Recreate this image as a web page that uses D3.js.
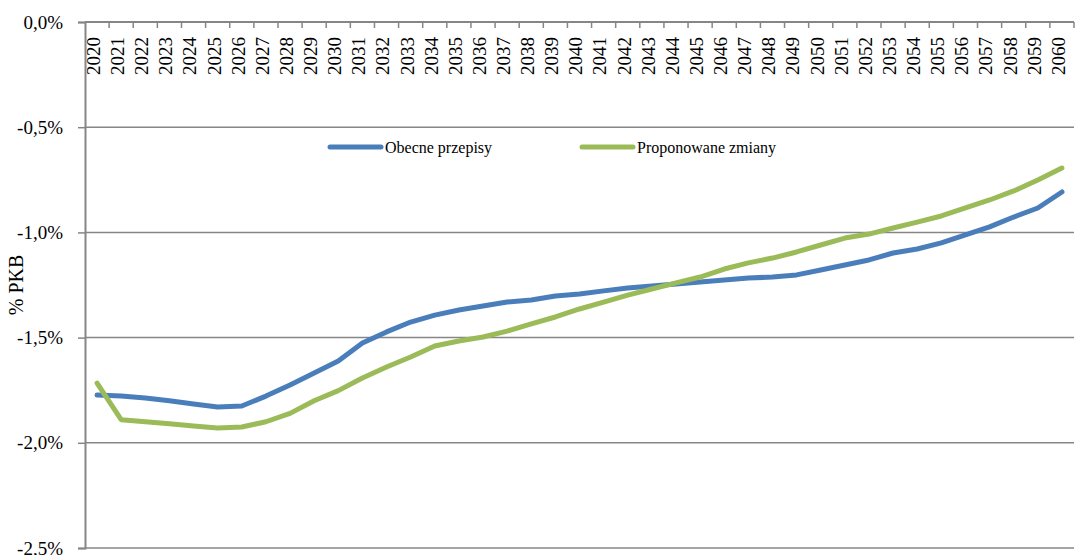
<!DOCTYPE html>
<html>
<head>
<meta charset="utf-8">
<script src="https://cdn.jsdelivr.net/npm/d3@7"></script>
<style>
  html, body { margin: 0; padding: 0; background: #fff; }
  svg { display: block; font-family: "Liberation Serif", "Times New Roman", serif; }
</style>
</head>
<body>
<div id="chart" style="width:1076px;height:555px"></div>
<script>
// years on the (top) category axis
const years = d3.range(2020, 2061).map(String);

// % PKB, current rules
const obecne = [
  -1.773, -1.778, -1.787, -1.800, -1.816, -1.830, -1.825, -1.778, -1.725, -1.668,
  -1.611, -1.526, -1.473, -1.426, -1.393, -1.369, -1.350, -1.331, -1.321, -1.302,
  -1.293, -1.278, -1.264, -1.255, -1.245, -1.236, -1.226, -1.217, -1.212, -1.202,
  -1.179, -1.155, -1.131, -1.098, -1.079, -1.050, -1.012, -0.974, -0.927, -0.884,
  -0.808
];

// % PKB, proposed changes
const proponowane = [
  -1.716, -1.890, -1.900, -1.910, -1.920, -1.930, -1.925, -1.900, -1.860, -1.800,
  -1.752, -1.692, -1.640, -1.592, -1.540, -1.516, -1.497, -1.469, -1.435, -1.402,
  -1.364, -1.331, -1.298, -1.269, -1.240, -1.212, -1.174, -1.145, -1.122, -1.093,
  -1.060, -1.027, -1.008, -0.979, -0.951, -0.922, -0.884, -0.846, -0.803, -0.751,
  -0.694
];

const yTicks = [0, -0.5, -1.0, -1.5, -2.0, -2.5];

const series = [
  { name: "Obecne przepisy", values: obecne, color: "#4A7EBB" },
  { name: "Proponowane zmiany", values: proponowane, color: "#9BBB59" }
];

const width = 1076, height = 555;
const margin = { top: 22, right: 2, bottom: 7, left: 85 };

const svg = d3.select("#chart").append("svg")
  .attr("width", width)
  .attr("height", height);

const x = d3.scaleBand()
  .domain(years)
  .range([margin.left, width - margin.right]);

const y = d3.scaleLinear()
  .domain([-2.5, 0])
  .range([height - margin.bottom, margin.top]);

const fmt = d => d.toFixed(1).replace(".", ",") + "%";

// horizontal grid + left axis
const yAxis = svg.append("g")
  .attr("transform", `translate(${margin.left},0)`)
  .call(d3.axisLeft(y).tickValues(yTicks).tickSize(7).tickPadding(15).tickFormat(fmt));
yAxis.select(".domain").attr("stroke", "#868686").attr("stroke-width", 2);
yAxis.selectAll(".tick line").attr("stroke", "#868686").attr("stroke-width", 1.5);
yAxis.selectAll(".tick text")
  .attr("fill", "#000")
  .style("font-size", "19px")
  .style("font-family", "Liberation Serif");

svg.append("g")
  .selectAll("line")
  .data(yTicks.filter(d => d !== 0))
  .join("line")
  .attr("x1", margin.left)
  .attr("x2", width - margin.right)
  .attr("y1", d => y(d))
  .attr("y2", d => y(d))
  .attr("stroke", "#868686")
  .attr("stroke-width", 1.5);

// top category axis (at 0%) with ticks between categories
const xAxis = svg.append("g");
xAxis.append("line")
  .attr("x1", margin.left)
  .attr("x2", width - margin.right)
  .attr("y1", y(0))
  .attr("y2", y(0))
  .attr("stroke", "#868686")
  .attr("stroke-width", 2);
xAxis.selectAll(".xt")
  .data(years)
  .join("line")
  .attr("class", "xt")
  .attr("x1", d => x(d) + x.bandwidth())
  .attr("x2", d => x(d) + x.bandwidth())
  .attr("y1", y(0))
  .attr("y2", y(0) + 6)
  .attr("stroke", "#868686")
  .attr("stroke-width", 1.5);
xAxis.selectAll(".yl")
  .data(years)
  .join("text")
  .attr("class", "yl")
  .attr("transform", d => `translate(${x(d) + x.bandwidth() / 2},${y(0) + 53}) rotate(-90)`)
  .attr("dy", "0.15em")
  .attr("text-anchor", "start")
  .style("font-size", "19px")
  .text(d => d);

// y title
svg.append("text")
  .attr("transform", `translate(23,${(y(0) + y(-2.5)) / 2}) rotate(-90)`)
  .attr("text-anchor", "middle")
  .style("font-size", "20px")
  .text("% PKB");

// lines
const line = d3.line()
  .x((d, i) => x(years[i]) + x.bandwidth() / 2)
  .y(d => y(d));

svg.selectAll(".series")
  .data(series)
  .join("path")
  .attr("class", "series")
  .attr("d", d => line(d.values))
  .attr("fill", "none")
  .attr("stroke", d => d.color)
  .attr("stroke-width", 5)
  .attr("stroke-linejoin", "round")
  .attr("stroke-linecap", "round");

// legend
const legendX = [330, 582];
const legend = svg.selectAll(".legend")
  .data(series)
  .join("g")
  .attr("class", "legend")
  .attr("transform", (d, i) => `translate(${legendX[i]},147)`);
legend.append("line")
  .attr("x1", 0).attr("x2", 51)
  .attr("stroke", d => d.color)
  .attr("stroke-width", 5)
  .attr("stroke-linecap", "round");
legend.append("text")
  .attr("x", 55)
  .attr("dy", "0.35em")
  .style("font-size", "16px")
  .text(d => d.name);
</script>
</body>
</html>
